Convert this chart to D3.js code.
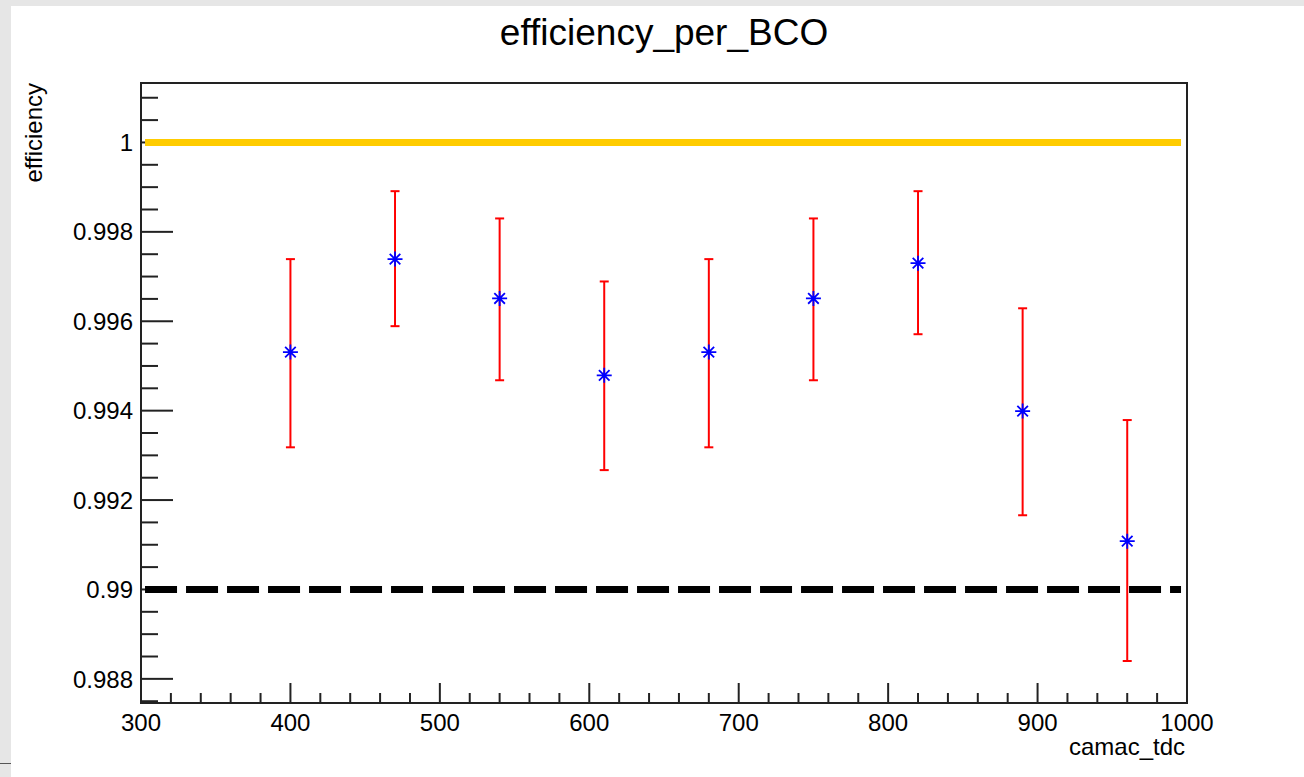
<!DOCTYPE html>
<html>
<head>
<meta charset="utf-8">
<script src="https://cdn.jsdelivr.net/npm/d3@7"></script>
<style>
  body { margin: 0; background: #e6e6e6; }
  text { font-family: "Liberation Sans", Arial, Helvetica, sans-serif; fill: #000; }
</style>
</head>
<body>
<div id="main"></div>
<script>
var ctx = {
    w: 1304,
    h: 777,
};

// data
var tdc = [400, 470, 540, 610, 680, 750, 820, 890, 960];
var efficiency = [0.99531, 0.99739, 0.99651, 0.99479, 0.99531, 0.99651, 0.9973, 0.99399, 0.99108];
var errHigh = [0.00208, 0.00152, 0.00179, 0.0021, 0.00208, 0.00179, 0.00161, 0.0023, 0.00271];
var errLow = [0.00213, 0.0015, 0.00183, 0.00212, 0.00213, 0.00183, 0.00159, 0.00233, 0.00268];
var xTicks = [300, 400, 500, 600, 700, 800, 900, 1000];
var yTicks = [0.988, 0.99, 0.992, 0.994, 0.996, 0.998, 1];
var yTickLabels = ["0.988", "0.99", "0.992", "0.994", "0.996", "0.998", "1"];
var refLines = [
    { y: 1, x0: 302.7, x1: 996, color: "#ffcc00", dash: null },
    { y: 0.99, x0: 302.7, x1: 996, color: "#000", dash: "32,9" },
];

var frame = { left: 141, right: 1187, top: 83, bottom: 703 };

var svg = d3.select("#main").append("svg")
    .attr("width", ctx.w)
    .attr("height", ctx.h);

// canvas background
svg.append("rect").attr("width", ctx.w).attr("height", ctx.h).attr("fill", "#e6e6e6");
svg.append("rect").attr("x", 11).attr("y", 6)
    .attr("width", ctx.w - 11).attr("height", ctx.h - 6).attr("fill", "#fff");
svg.append("line").attr("x1", 0).attr("x2", 11).attr("y1", 763.5).attr("y2", 763.5)
    .attr("stroke", "#555").attr("stroke-width", 1);

var x = d3.scaleLinear().domain([300, 1000]).range([frame.left, frame.right]);
var y = d3.scaleLinear().domain([0.98746, 1.00133]).range([frame.bottom, frame.top]);

var axisColor = "#222";

// y axis ticks
var yMinor = d3.range(0, 28).map((i) => 0.9875 + i * 0.0005).filter((v) => v <= 1.0013);
svg.append("g").selectAll("line")
    .data(yMinor)
    .enter().append("line")
    .attr("x1", frame.left)
    .attr("x2", (d) => frame.left + (Math.abs((d - 0.988) / 0.002 - Math.round((d - 0.988) / 0.002)) < 1e-6 ? 32 : 17))
    .attr("y1", (d) => y(d))
    .attr("y2", (d) => y(d))
    .attr("stroke", axisColor)
    .attr("stroke-width", 2);

svg.append("g").selectAll("text")
    .data(yTicks)
    .enter().append("text")
    .attr("x", 133)
    .attr("y", (d) => y(d))
    .attr("dy", "0.36em")
    .attr("text-anchor", "end")
    .attr("font-size", 24)
    .text((d, i) => yTickLabels[i]);

// x axis ticks
var xMinor = d3.range(300, 1001, 20);
svg.append("g").selectAll("line")
    .data(xMinor)
    .enter().append("line")
    .attr("x1", (d) => x(d))
    .attr("x2", (d) => x(d))
    .attr("y1", frame.bottom)
    .attr("y2", (d) => frame.bottom - (d % 100 == 0 ? 20 : 10))
    .attr("stroke", axisColor)
    .attr("stroke-width", 2);

svg.append("g").selectAll("text")
    .data(xTicks)
    .enter().append("text")
    .attr("x", (d) => x(d))
    .attr("y", 731)
    .attr("text-anchor", "middle")
    .attr("font-size", 24)
    .text((d) => d);

// frame
svg.append("rect")
    .attr("x", frame.left).attr("y", frame.top)
    .attr("width", frame.right - frame.left).attr("height", frame.bottom - frame.top)
    .attr("fill", "none").attr("stroke", axisColor).attr("stroke-width", 2);

// reference lines
svg.append("g").selectAll("line")
    .data(refLines)
    .enter().append("line")
    .attr("x1", (d) => x(d.x0))
    .attr("x2", (d) => x(d.x1))
    .attr("y1", (d) => y(d.y))
    .attr("y2", (d) => y(d.y))
    .attr("stroke", (d) => d.color)
    .attr("stroke-width", 7)
    .attr("stroke-dasharray", (d) => d.dash);

// error bars
var points = tdc.map((t, i) => ({ x: t, y: efficiency[i], hi: errHigh[i], lo: errLow[i] }));
var bars = svg.append("g").attr("stroke", "#ff0000").attr("stroke-width", 2);
bars.selectAll(".bar")
    .data(points)
    .enter().append("line")
    .attr("x1", (d) => x(d.x)).attr("x2", (d) => x(d.x))
    .attr("y1", (d) => y(d.y + d.hi)).attr("y2", (d) => y(d.y - d.lo));
bars.selectAll(".capTop")
    .data(points)
    .enter().append("line")
    .attr("x1", (d) => x(d.x) - 4.5).attr("x2", (d) => x(d.x) + 4.5)
    .attr("y1", (d) => y(d.y + d.hi)).attr("y2", (d) => y(d.y + d.hi));
bars.selectAll(".capBot")
    .data(points)
    .enter().append("line")
    .attr("x1", (d) => x(d.x) - 4.5).attr("x2", (d) => x(d.x) + 4.5)
    .attr("y1", (d) => y(d.y - d.lo)).attr("y2", (d) => y(d.y - d.lo));

// asterisk markers
var marks = svg.append("g").selectAll("g")
    .data(points)
    .enter().append("g")
    .attr("transform", (d) => `translate(${x(d.x)},${y(d.y)})`);
marks.append("path")
    .attr("d", "M-7.5,0H7.5M0,-7.5V7.5M-5.3,-5.3L5.3,5.3M-5.3,5.3L5.3,-5.3")
    .attr("stroke", "#0000ff")
    .attr("stroke-width", 1.8)
    .attr("fill", "none");

// titles
svg.append("text")
    .attr("x", 664).attr("y", 45)
    .attr("text-anchor", "middle")
    .attr("font-size", 37)
    .text("efficiency_per_BCO");

svg.append("text")
    .attr("x", frame.right - 2).attr("y", 755)
    .attr("text-anchor", "end")
    .attr("font-size", 24)
    .text("camac_tdc");

svg.append("text")
    .attr("transform", "translate(42," + frame.top + ") rotate(-90)")
    .attr("text-anchor", "end")
    .attr("font-size", 24)
    .text("efficiency");
</script>
</body>
</html>
